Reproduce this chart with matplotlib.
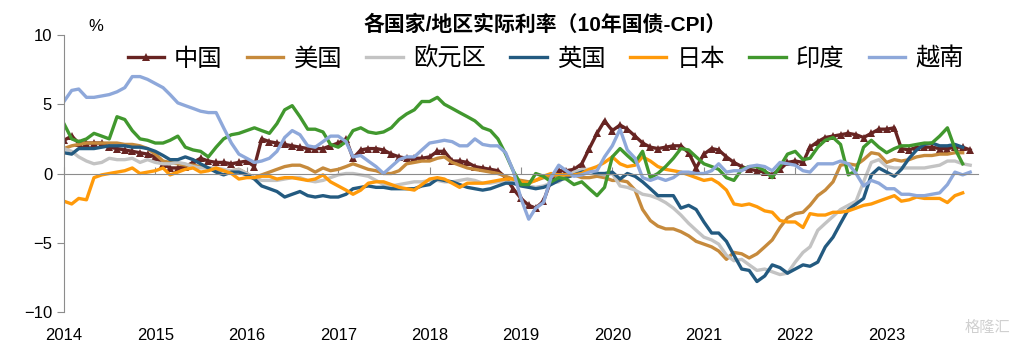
import numpy as np
import pandas as pd
import matplotlib
matplotlib.use("Agg")
import matplotlib.pyplot as plt
import matplotlib.dates as mdates

plt.rcParams['font.family'] = ['Liberation Sans', 'Noto Sans CJK SC', 'DejaVu Sans']
plt.rcParams['axes.unicode_minus'] = True

# monthly, 2014-01 .. 2023-12
dates = pd.date_range('2014-01-01', periods=120, freq='MS')
nan = np.nan

china = [2.4, 2.7, 2.2, 2.2, 2.2, 2.2, 1.9, 1.8, 1.7, 1.6, 1.5, 1.4,
         1.2, 0.7, 0.4, 0.4, 0.5, 0.8, 1.1, 0.9, 0.8, 0.8, 0.7, 0.8,
         0.9, 0.5, 2.5, 2.3, 2.2, 2.1, 2.0, 1.9, 1.8, 1.8, 1.8, 2.0,
         2.2, 2.5, 1.1, 1.7, 1.8, 1.8, 1.7, 1.4, 1.2, 1.1, 1.1, 1.1,
         1.2, 1.6, 1.6, 0.9, 0.9, 0.8, 0.5, 0.4, 0.3, 0.2, -0.3, -1.1,
         -1.8, -2.3, -2.5, -2.0, -0.5, 0.2, 0.2, 0.3, 0.7, 1.8, 2.9, 3.8,
         3.1, 3.5, 3.2, 2.7, 2.2, 1.9, 1.8, 1.9, 2.0, 2.0, 1.5, 0.4,
         1.4, 1.8, 1.7, 1.2, 0.8, 0.5, 0.3, 0.2, 0.1, -0.1, 0.3, 0.8,
         0.9, 0.8, 1.9, 2.3, 2.6, 2.7, 2.8, 2.9, 2.8, 2.6, 2.9, 3.2,
         3.2, 3.3, 1.8, 1.7, 1.9, 1.9, 1.9, 1.8, 1.8, 1.9, 1.9, 1.7]

usa = [1.8, 2.0, 2.1, 2.2, 2.2, 2.2, 2.2, 2.2, 2.1, 2.1, 2.0, 1.8,
       1.4, 0.9, 0.8, 0.7, 0.6, 0.6, 0.5, 0.4, 0.3, 0.2, 0.2, 0.3,
       0.0, -0.3, -0.1, 0.1, 0.3, 0.5, 0.6, 0.6, 0.4, 0.1, 0.4, 0.2,
       0.3, 0.5, 0.7, 0.5, 0.3, 0.2, 0.0, 0.0, 0.2, 0.7, 0.8, 0.9,
       0.9, 1.1, 1.2, 0.8, 0.6, 0.4, 0.3, 0.2, 0.1, 0.0, -0.2, -0.4,
       -0.5, -0.6, -0.5, -0.3, -0.2, -0.1, -0.1, -0.1, -0.3, -0.3, -0.2, -0.3,
       -0.5, -0.5, -0.6, -1.2, -2.6, -3.4, -3.8, -4.0, -4.0, -4.2, -4.5, -4.9,
       -5.1, -5.3, -5.6, -6.2, -5.7, -5.8, -6.1, -5.8, -5.3, -4.8, -3.9, -3.2,
       -2.9, -2.8, -2.3, -1.6, -1.2, -0.6, 0.6, 0.7, 0.6, 1.0, 1.5, 1.4,
       0.8, 1.0, 0.9, 1.0, 1.2, 1.3, 1.3, 1.4, 1.4, 1.5, 1.5, nan]

euro = [1.8, 1.6, 1.2, 0.9, 0.7, 0.8, 1.1, 1.0, 1.0, 1.1, 0.8, 1.0,
        0.8, 0.7, 0.7, 0.8, 0.7, 0.5, 0.4, 0.4, 0.4, 0.3, 0.2, 0.3,
        0.0, -0.3, -0.5, -0.5, -0.5, -0.4, -0.3, -0.3, -0.5, -0.6, -0.5, -0.3,
        -0.1, 0.0, 0.0, -0.1, -0.2, -0.5, -0.8, -0.9, -0.8, -0.7, -0.6, -0.6,
        -0.5, -0.5, -0.6, -0.6, -0.5, -0.4, -0.5, -0.7, -0.7, -0.6, -0.6, -0.7,
        -0.7, -0.9, -1.0, -0.9, -0.7, -0.6, -0.2, 0.1, 0.3, 0.3, 0.0, -0.1,
        0.0, -0.9, -1.0, -1.2, -1.5, -1.6, -1.8, -2.1, -2.5, -3.0, -3.6, -4.1,
        -4.6, -4.8, -5.1, -5.9, -6.3, -6.2, -6.6, -7.0, -6.9, -7.1, -7.3, -7.2,
        -6.4, -5.7, -5.3, -4.1, -3.6, -3.1, -2.6, -2.3, -2.0, -0.6, 0.8, 1.0,
        0.5, 0.4, 0.4, 0.4, 0.4, 0.4, 0.5, 0.6, 0.9, 0.9, 0.7, 0.6]

uk = [1.5, 1.4, 1.8, 1.8, 1.8, 1.9, 2.0, 2.0, 2.0, 1.9, 1.9, 1.8,
      1.6, 1.3, 1.0, 1.0, 1.2, 1.0, 0.7, 0.4, 0.1, -0.1, 0.1, 0.1,
      -0.1, -0.4, -0.9, -1.1, -1.3, -1.7, -1.5, -1.3, -1.6, -1.7, -1.6, -1.7,
      -1.7, -1.5, -1.1, -1.0, -0.9, -1.0, -1.0, -1.1, -1.1, -1.1, -1.1, -0.9,
      -0.8, -0.4, -0.5, -0.6, -0.8, -1.0, -1.1, -1.2, -1.1, -0.9, -0.7, -0.7,
      -0.9, -1.0, -1.1, -1.0, -0.8, -0.5, -0.3, -0.1, 0.1, 0.2, 0.0, 0.0,
      0.1, -0.4, 0.0, -0.2, -0.6, -1.1, -1.6, -1.6, -1.6, -2.5, -2.3, -2.6,
      -3.5, -4.3, -4.3, -4.9, -5.9, -6.9, -7.0, -7.8, -7.4, -6.6, -6.8, -7.2,
      -6.9, -6.6, -6.7, -6.4, -5.3, -4.6, -3.6, -2.6, -2.2, -1.8, -0.1, 0.4,
      0.1, -0.2, 0.3, 1.1, 1.7, 2.1, 2.2, 2.0, 2.0, 2.1, 1.9, nan]

japan = [-2.0, -2.2, -1.8, -1.9, -0.3, -0.1, 0.0, 0.1, 0.2, 0.4, 0.0, 0.1,
         0.2, 0.4, -0.1, 0.1, 0.3, 0.4, 0.1, 0.2, 0.4, 0.2, 0.0, -0.4,
         -0.3, -0.3, -0.2, -0.2, -0.4, -0.3, -0.3, -0.4, -0.5, -0.4, -0.1, -0.6,
         -0.9, -1.2, -1.5, -1.2, -0.7, -0.6, -0.6, -0.8, -1.0, -1.1, -1.2, -0.8,
         -0.4, -0.3, -0.4, -0.7, -1.0, -0.7, -0.7, -0.7, -0.6, -0.5, -0.4, -0.4,
         -0.6, -0.7, -0.5, -0.2, 0.0, -0.1, -0.1, -0.1, 0.0, 0.3, 0.5, 0.8,
         1.2, 0.7, 0.5, 0.6, 1.2, 0.9, 0.5, 0.3, 0.2, 0.1, -0.1, -0.3,
         -0.5, -0.4, -0.7, -1.2, -2.2, -2.3, -2.2, -2.4, -2.7, -2.8, -3.4, -3.5,
         -3.5, -3.9, -2.9, -3.0, -3.0, -2.8, -2.8, -2.7, -2.5, -2.3, -2.2, -2.0,
         -1.8, -1.6, -2.0, -1.9, -1.7, -1.8, -1.8, -1.8, -2.1, -1.6, -1.4, nan]

india = [3.6, 2.5, 2.3, 2.5, 2.9, 2.7, 2.5, 4.1, 3.9, 3.1, 2.5, 2.4,
         2.2, 2.2, 2.4, 2.7, 1.9, 1.7, 1.6, 1.2, 1.9, 2.5, 2.8, 2.9,
         3.1, 3.3, 3.1, 2.9, 3.6, 4.6, 4.9, 4.1, 3.2, 3.2, 3.0, 2.1,
         1.9, 2.3, 3.1, 3.3, 3.0, 2.9, 3.0, 3.3, 3.9, 4.3, 4.6, 5.2,
         5.2, 5.5, 5.0, 4.7, 4.4, 4.1, 3.8, 3.3, 3.1, 2.5, 1.4, 0.2,
         -0.8, -0.8, 0.0, -0.2, -0.6, -0.3, -0.4, -0.8, -0.6, -1.1, -1.6, -1.0,
         1.2, 1.8, 1.3, 0.8, 1.6, -0.3, 0.0, 0.5, 1.1, 1.8, 1.7, 1.2,
         0.7, 0.5, 0.3, -0.3, -0.5, 0.3, 0.5, 0.5, 0.2, -0.3, 0.5, 1.4,
         1.6, 1.0, 1.1, 1.9, 2.4, 2.6, 2.1, -0.1, 0.2, 1.9, 2.4, 1.9,
         1.5, 1.8, 2.0, 2.0, 2.1, 2.2, 2.2, 2.7, 3.3, 1.8, 0.7, nan]

vietnam = [5.2, 6.0, 6.1, 5.5, 5.5, 5.6, 5.7, 5.9, 6.2, 7.0, 7.0, 6.8,
           6.5, 6.2, 5.7, 5.1, 4.9, 4.7, 4.5, 4.4, 4.4, 3.3, 2.2, 1.4,
           1.1, 0.8, 0.9, 1.1, 1.6, 2.6, 3.1, 2.8, 2.0, 1.9, 2.3, 2.7,
           2.7, 2.3, 1.2, 1.3, 0.9, 0.5, 0.0, 0.5, 1.0, 1.2, 1.2, 1.7,
           2.2, 2.3, 2.4, 2.3, 2.0, 2.0, 2.5, 2.1, 2.0, 2.0, 1.5, 0.2,
           -1.8, -3.3, -2.5, -2.1, -0.3, 0.6, 0.2, -0.2, -0.1, 0.1, 0.2, 1.2,
           2.0, 3.2, 1.7, 1.1, -0.3, -0.5, -0.3, -0.5, -0.3, 0.1, 0.1, 0.0,
           0.0, 0.2, 0.7, 0.1, 0.2, 0.2, 0.5, 0.6, 0.5, 0.2, 0.8, 0.7,
           0.6, 0.2, 0.1, 0.7, 0.7, 0.7, 0.9, 0.7, 0.0, -0.9, -0.5, -0.7,
           -1.1, -1.1, -1.5, -1.5, -1.6, -1.6, -1.5, -1.4, -0.8, 0.1, -0.1, 0.1]

names = ['中国', '美国', '欧元区', '英国', '日本', '印度', '越南']
series = [china, usa, euro, uk, japan, india, vietnam]
colors = ['#672422', '#C68A3C', '#C3C3C3', '#235A80', '#FF9A0A', '#41982E', '#8EA8DA']

fig = plt.figure(figsize=(10.15, 3.47), dpi=100)
ax = fig.add_axes([0.063, 0.101, 0.9005, 0.798])

for name, vals, c in zip(names, series, colors):
    if name == '中国':
        ax.plot(dates, vals, color=c, lw=2.4, marker='^', markersize=6,
                markeredgewidth=0, label=name)
    else:
        ax.plot(dates, vals, color=c, lw=2.4, label=name)

ax.set_xlim(pd.Timestamp('2014-01-01'), pd.Timestamp('2024-01-01'))
ax.set_ylim(-10, 10)
ax.set_yticks([-10, -5, 0, 5, 10])
ax.set_yticklabels(['\u221210', '\u22125', '0', '5', '10'])

years = pd.date_range('2014-01-01', '2023-01-01', freq='YS')
ax.set_xticks(years)
ax.xaxis.set_major_formatter(mdates.DateFormatter('%Y'))

for s in ['top', 'right']:
    ax.spines[s].set_visible(False)
ax.spines['left'].set_color('#8C8C8C')
ax.spines['bottom'].set_color('#8C8C8C')
ax.spines['bottom'].set_position(('data', 0))
ax.tick_params(axis='y', colors='#8C8C8C', labelcolor='black', labelsize=12,
               length=5, direction='out')
ax.tick_params(axis='x', colors='#8C8C8C', labelcolor='black', labelsize=12,
               length=5, direction='in', pad=111)

ax.text(0.035, 1.003, '%', transform=ax.transAxes, fontsize=12, ha='center', va='bottom')
fig.text(0.537, 0.93, '各国家/地区实际利率（10年国债-CPI）', ha='center', va='center',
         fontsize=15, fontweight='bold')

ax.legend(loc='upper center', bbox_to_anchor=(0.527, 0.955), ncol=7, frameon=False,
          fontsize=17.5, handlelength=1.5, handletextpad=0.42, columnspacing=1.0,
          borderaxespad=0, borderpad=0)

fig.text(0.995, 0.035, '格隆汇', color='#D0D0D0', fontsize=11, ha='right', va='bottom')

fig.savefig('out.png', dpi=100)
